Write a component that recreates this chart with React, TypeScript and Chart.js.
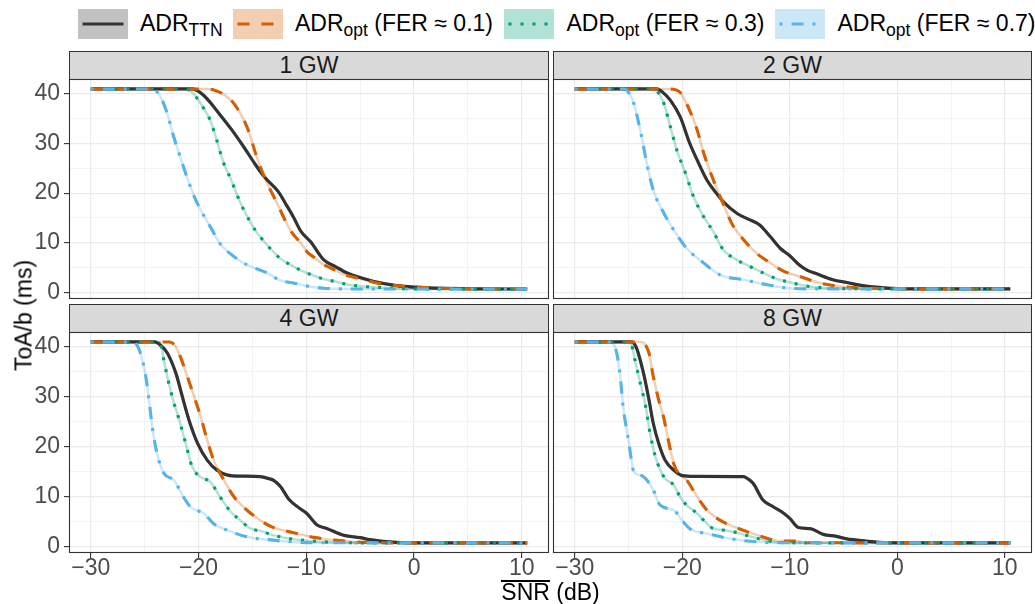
import React, { useEffect, useRef } from "react";
import { Chart, registerables } from "chart.js";

Chart.register(...registerables);

const FONT = '"Liberation Sans", Arimo, Arial, sans-serif';

type Pt = [number, number];

// ---------- data (x = mean SNR in dB, y = ToA/b in ms) ----------
const PANEL_TITLES = ["1 GW", "2 GW", "4 GW", "8 GW"];
const X_TICK_STEP = 5;
const Y_TICK_STEP = 5;
const X_LIMITS = [-32.025, 12.525];
const Y_LIMITS = [-1.33, 43.0];

const TTN_1GW: Pt[] = [[-30,41],[-20.6,41],[-19.8,40.2],[-19,38.5],[-18.3,36.6],[-17,33],[-15.8,29.3],[-14.8,26],[-13.9,23.3],[-12.6,20.3],[-11.9,17.8],[-11.2,15.2],[-10.5,12.3],[-9.6,10.2],[-8.4,6.6],[-7.3,5.2],[-6.2,3.9],[-5,3.0],[-3.7,2.2],[-1.6,1.35],[0,1.05],[3,0.8],[6,0.7],[10.5,0.68]];
const OPT01_1GW: Pt[] = [[-30,41],[-19.2,41],[-18.6,40.8],[-17.6,39.8],[-16.7,38],[-15.5,33.3],[-14.6,27.3],[-13.9,23.3],[-12.7,17.9],[-11.5,12.6],[-10.5,9.9],[-9.9,8.1],[-9.3,7.1],[-8.4,5.6],[-7.7,4.9],[-6.5,3.6],[-5.3,2.9],[-3.7,2.0],[-2.2,1.5],[0,1.1],[3,0.8],[6,0.7],[10.5,0.68]];
const OPT03_1GW: Pt[] = [[-30,41],[-21.2,41],[-20.6,40.3],[-20.1,39],[-19.5,37],[-18.9,34.6],[-18.3,30.6],[-17.7,26.2],[-17.0,22.8],[-16.4,19.5],[-15.8,16.6],[-15.2,14.2],[-14.7,12.4],[-13.9,10.2],[-12.4,6.8],[-11.5,5.6],[-10.5,4.45],[-9.4,3.45],[-8.4,2.7],[-7.2,2.15],[-6.2,1.6],[-5,1.25],[-2.8,0.95],[-0.6,0.72],[3,0.68],[10.5,0.68]];
const OPT07_1GW: Pt[] = [[-30,41],[-24.3,41],[-23.9,40.5],[-23.5,39.3],[-22.9,36],[-22.3,31.3],[-21.7,27.3],[-21.2,24],[-20.4,19.3],[-19.8,16.6],[-18.9,13.2],[-18,9.8],[-16.7,7.2],[-15.5,5.55],[-13.6,3.9],[-12.4,2.4],[-11.2,1.9],[-9.6,1.15],[-8.1,0.8],[-6.5,0.7],[10.5,0.68]];

const TTN_2GW: Pt[] = [[-30,41],[-22.4,41],[-21.8,40.3],[-21.1,38.7],[-20.2,35.4],[-19.3,30],[-18.6,26.6],[-17.7,22.6],[-16.8,19.9],[-16.2,18.3],[-14.9,15.9],[-13.7,14.6],[-12.8,13.6],[-11.8,11.2],[-10.9,8.9],[-10.0,7.4],[-9.05,5.4],[-8.4,4.5],[-7.5,3.75],[-6,2.55],[-4.7,2.0],[-3.2,1.35],[-1,0.88],[1,0.72],[10.5,0.7]];
const OPT01_2GW: Pt[] = [[-30,41],[-21.2,41],[-20.6,40.8],[-20.2,40.3],[-19.3,36.6],[-18.6,32.6],[-18,28],[-17.1,22.6],[-16.2,17.9],[-15.4,13.9],[-14.3,10.6],[-13.1,7.9],[-11.8,5.9],[-10.6,4.3],[-9.05,3.2],[-7.2,1.9],[-4.7,1.08],[-1.6,0.8],[2,0.7],[10.5,0.7]];
const OPT03_2GW: Pt[] = [[-30,41],[-22.6,41],[-22.1,39.8],[-21.7,38],[-21.1,33.3],[-20.5,28.6],[-19.7,24],[-18.96,19.3],[-18,15.2],[-17.1,12.2],[-16.2,8.6],[-15.2,6.9],[-13.4,4.9],[-11.2,2.7],[-10.1,2.1],[-9.05,1.55],[-7.8,1.1],[-4.7,0.75],[0,0.7],[10.5,0.7]];
const OPT07_2GW: Pt[] = [[-30,41],[-25.4,41],[-24.9,40],[-24.5,38],[-23.9,32.6],[-23.3,26],[-22.7,20.6],[-21.7,15.9],[-20.8,12.6],[-19.6,8.9],[-18,5.9],[-16.5,3.55],[-14.3,2.55],[-12.1,1.55],[-10.3,0.9],[-8.5,0.72],[10.5,0.7]];

const TTN_4GW: Pt[] = [[-30,41],[-24.1,41],[-23.5,40.3],[-22.9,38.8],[-22.1,34.7],[-21.5,30],[-20.9,25.4],[-20.1,20.7],[-19.2,17.3],[-18.3,15.3],[-17.3,14.3],[-16.1,14.1],[-14.3,14.0],[-13.5,13.6],[-13.0,13.2],[-12.4,12],[-11.6,9.4],[-10.6,7.6],[-10.0,6.7],[-9.0,4.3],[-8.1,3.6],[-6.5,2.2],[-5.0,1.75],[-4.1,1.35],[-1.6,0.8],[1,0.7],[10.5,0.7]];
const OPT01_4GW: Pt[] = [[-30,41],[-22.7,41],[-22.2,40.3],[-21.7,38.1],[-21.05,34.1],[-20.4,30],[-19.8,26],[-19.2,21.3],[-18.6,17.3],[-17.65,13.3],[-16.7,9.9],[-15.5,7.25],[-14.25,5.2],[-13.3,4.0],[-12.3,3.3],[-11.3,2.8],[-9.3,1.8],[-7.1,1.2],[-4.6,0.8],[0,0.7],[10.5,0.7]];
const OPT03_4GW: Pt[] = [[-30,41],[-23.7,41],[-23.4,39.5],[-23.2,37.1],[-22.45,30],[-21.8,25.4],[-21.2,20.7],[-20.6,16],[-19.8,13.9],[-18.9,12.9],[-18,9.9],[-17,6.9],[-16.1,5.2],[-15.2,3.6],[-14.25,3.1],[-13,2.2],[-12.1,1.75],[-10.8,1.35],[-9.3,1.05],[-7.4,0.8],[-4,0.7],[10.5,0.7]];
const OPT07_4GW: Pt[] = [[-30,41],[-26.1,41],[-25.7,40.3],[-25.4,38.8],[-24.9,34.1],[-24.6,29.4],[-24.3,24],[-23.85,18.6],[-23.2,14.6],[-22.3,13.3],[-21.4,9.9],[-20.75,7.9],[-19.5,6.6],[-18.6,4.55],[-17.3,3.2],[-15.5,1.9],[-13.6,1.35],[-11.2,0.9],[-9.3,0.72],[10.5,0.7]];

const TTN_8GW: Pt[] = [[-30,41],[-24.7,41],[-24.3,40],[-24.1,38.8],[-23.6,34.7],[-23.1,29.4],[-22.7,24.7],[-22.2,20.7],[-21.6,17.3],[-20.8,15.3],[-20,14.2],[-18.9,14.05],[-14.3,14.0],[-13.8,13.4],[-13.4,12.6],[-12.5,9.3],[-11.5,7.9],[-10.6,6.7],[-10.0,5.6],[-9.2,3.8],[-8.1,3.55],[-6.9,2.4],[-5.65,2.0],[-4.7,1.5],[-2.9,1.07],[-1,0.75],[1,0.7],[10.5,0.7]];
const OPT01_8GW: Pt[] = [[-30,41],[-23.8,41],[-23.4,40.3],[-23.1,38.8],[-22.7,34.1],[-22.2,29.4],[-21.75,26],[-21.3,21.3],[-20.8,16.6],[-20.35,14.6],[-19.6,13.3],[-18.6,9.9],[-17.7,7.25],[-16.2,4.9],[-14.3,3.2],[-12.5,1.9],[-11,1.1],[-9.2,1.05],[-8.4,0.72],[10.5,0.7]];
const OPT03_8GW: Pt[] = [[-30,41],[-24.9,41],[-24.6,39.5],[-24.4,37.4],[-23.9,32.7],[-23.4,28],[-23,22.7],[-22.5,18],[-21.7,13.9],[-20.8,12.3],[-20.2,9.9],[-19.6,8.25],[-18.6,6.6],[-18,5.2],[-17.1,3.55],[-15.9,3.2],[-14,2.2],[-12.8,1.5],[-11.1,0.8],[-8,0.7],[10.5,0.7]];
const OPT07_8GW: Pt[] = [[-30,41],[-26.6,41],[-26.3,40.2],[-26.1,38.8],[-25.8,34.7],[-25.5,28],[-25,21.3],[-24.5,14.95],[-23.8,14.2],[-23.3,13.3],[-22.7,11.3],[-22.05,8.25],[-20.8,7.25],[-19.9,4.9],[-19.3,3.55],[-17.7,2.55],[-15.55,1.55],[-13.9,1.07],[-11.1,0.72],[10.5,0.7]];

const PANEL_SERIES: Pt[][][] = [
  [TTN_1GW, OPT01_1GW, OPT03_1GW, OPT07_1GW],
  [TTN_2GW, OPT01_2GW, OPT03_2GW, OPT07_2GW],
  [TTN_4GW, OPT01_4GW, OPT03_4GW, OPT07_4GW],
  [TTN_8GW, OPT01_8GW, OPT03_8GW, OPT07_8GW],
];

// ---------- styles ----------
const STYLES = [
  { color: "#333333", ribbon: "rgba(51,51,51,0.3)", dash: [] as number[], width: 3.2 },
  { color: "#D55E00", ribbon: "rgba(213,94,0,0.3)", dash: [12, 12], width: 3.1 },
  { color: "#009E73", ribbon: "rgba(0,158,115,0.3)", dash: [3, 9], width: 3.1 },
  { color: "#56B4E9", ribbon: "rgba(86,180,233,0.3)", dash: [3, 9, 12, 9], width: 3.1 },
];

const FS = 23;

const fmtTick = (v: number) => (v < 0 ? "\u2212" + Math.abs(v) : String(v));
const isMajor = (v: number) => Math.abs(Math.round(v)) % 10 === 0;

const borderPlugin = {
  id: "panelBorder",
  afterDatasetsDraw(chart: any) {
    const { ctx, chartArea: a } = chart;
    ctx.save();
    ctx.strokeStyle = "#333333";
    ctx.lineWidth = 1.1;
    ctx.strokeRect(a.left + 0.5, a.top + 0.5, a.right - a.left - 1, a.bottom - a.top - 1);
    ctx.restore();
  },
};

type Rect = { L: number; T: number; R: number; B: number };

function FacetPanel({ rect, showX, showY, series, title }: { rect: Rect; showX: boolean; showY: boolean; series: Pt[][]; title: string }) {
  const ref = useRef<HTMLCanvasElement>(null);
  const P = 2;
  const YW = 46;
  const XH = 38;
  const cLeft = rect.L - (showY ? YW : P);
  const cTop = rect.T - P;
  const cW = rect.R - rect.L + (showY ? YW : P) + P;
  const cH = rect.B - rect.T + P + (showX ? XH : P);

  useEffect(() => {
    if (!ref.current) return;
    const datasets: any[] = [];
    series.forEach((pts, i) => {
      const data = pts.map(([x, y]) => ({ x, y }));
      const st = STYLES[i];
      datasets.push({
        data,
        borderColor: st.ribbon,
        borderWidth: 2.5,
        pointRadius: 0,
        cubicInterpolationMode: "monotone",
        fill: false,
        order: 20 + i,
      });
      datasets.push({
        data,
        borderColor: st.color,
        borderWidth: st.width,
        borderDash: st.dash,
        borderCapStyle: "butt",
        borderJoinStyle: "round",
        pointRadius: 0,
        cubicInterpolationMode: "monotone",
        fill: false,
        order: 10 - i,
      });
    });

    const gridCommon = {
      color: "#ebebeb",
      lineWidth: (c: any) => (c.tick && isMajor(c.tick.value) ? 1.2 : 0.6),
      tickLength: 5,
      tickWidth: 1.1,
      tickColor: (c: any) => (c.tick && isMajor(c.tick.value) ? "#333333" : "rgba(0,0,0,0)"),
    };

    const chart = new Chart(ref.current, {
      type: "line",
      data: { datasets },
      plugins: [borderPlugin],
      options: {
        animation: false,
        responsive: false,
        maintainAspectRatio: false,
        events: [],
        layout: {
          autoPadding: false,
          padding: { top: P, right: P, left: showY ? 0 : P, bottom: showX ? 0 : P },
        },
        plugins: { legend: { display: false }, tooltip: { enabled: false }, title: { display: false } },
        scales: {
          x: {
            type: "linear",
            min: X_LIMITS[0],
            max: X_LIMITS[1],
            border: { display: false },
            grid: { ...gridCommon, drawTicks: showX },
            ticks: {
              display: showX,
              stepSize: X_TICK_STEP,
              includeBounds: false,
              autoSkip: false,
              maxRotation: 0,
              minRotation: 0,
              padding: -1,
              color: "#4d4d4d",
              font: { family: FONT, size: FS, lineHeight: 1 },
              callback: (v: any) => (isMajor(Number(v)) ? fmtTick(Number(v)) : ""),
            },
            afterFit: (s: any) => {
              s.height = showX ? XH : 0;
              s.paddingLeft = 0;
              s.paddingRight = 0;
            },
          },
          y: {
            type: "linear",
            min: Y_LIMITS[0],
            max: Y_LIMITS[1],
            border: { display: false },
            grid: { ...gridCommon, drawTicks: showY },
            ticks: {
              display: showY,
              stepSize: Y_TICK_STEP,
              includeBounds: false,
              autoSkip: false,
              padding: 4,
              color: "#4d4d4d",
              font: { family: FONT, size: FS, lineHeight: 1 },
              callback: (v: any) => (isMajor(Number(v)) ? fmtTick(Number(v)) : ""),
            },
            afterFit: (s: any) => {
              s.width = showY ? YW : 0;
              s.paddingTop = 0;
              s.paddingBottom = 0;
            },
          },
        },
      } as any,
    });
    return () => chart.destroy();
  }, []);

  return (
    <>
      <div
        style={{
          position: "absolute",
          left: rect.L,
          top: rect.T - 28,
          width: rect.R - rect.L,
          height: 29,
          boxSizing: "border-box",
          border: "1px solid #333333",
          background: "#d9d9d9",
          color: "#1a1a1a",
          fontSize: FS,
          lineHeight: "27px",
          textAlign: "center",
        }}
      >
        {title}
      </div>
      <canvas
        ref={ref}
        width={cW}
        height={cH}
        style={{ position: "absolute", left: cLeft, top: cTop, width: cW, height: cH }}
      />
    </>
  );
}

const LEGEND_BOXES = [78, 233, 503.5, 775];
const LEGEND_TEXT_X = [140, 295, 566.5, 837.5];

function LegendKey({ i, left }: { i: number; left: number }) {
  const st = STYLES[i];
  return (
    <svg width={50} height={30} style={{ position: "absolute", left, top: 9 }}>
      <rect x={0} y={0} width={50} height={30} fill={st.ribbon} />
      <line
        x1={4.5}
        y1={15}
        x2={45.5}
        y2={15}
        stroke={st.color}
        strokeWidth={2.8}
        strokeDasharray={st.dash.length ? st.dash.join(" ") : undefined}
        strokeLinecap="butt"
      />
    </svg>
  );
}

const sub = { fontSize: 17.5, position: "relative" as const, top: 5 };

export default function App() {
  const rects: Rect[] = [
    { L: 69, T: 79, R: 549, B: 299 },
    { L: 553, T: 79, R: 1032, B: 299 },
    { L: 69, T: 332, R: 549, B: 553 },
    { L: 553, T: 332, R: 1032, B: 553 },
  ];
  const labels = [
    <span>ADR<span style={sub}>TTN</span></span>,
    <span>ADR<span style={sub}>opt</span> (FER ≈ 0.1)</span>,
    <span>ADR<span style={sub}>opt</span> (FER ≈ 0.3)</span>,
    <span>ADR<span style={sub}>opt</span> (FER ≈ 0.7)</span>,
  ];
  return (
    <div
      style={{
        position: "fixed",
        left: 0,
        top: 0,
        width: 1035,
        height: 604,
        background: "#ffffff",
        fontFamily: FONT,
        overflow: "hidden",
      }}
    >
      {LEGEND_BOXES.map((x, i) => (
        <LegendKey key={"k" + i} i={i} left={x} />
      ))}
      {LEGEND_TEXT_X.map((x, i) => (
        <div
          key={"t" + i}
          style={{ position: "absolute", left: x, top: 11.5, fontSize: FS, lineHeight: "23px", color: "#000", whiteSpace: "nowrap" }}
        >
          {labels[i]}
        </div>
      ))}
      {rects.map((r, i) => (
        <FacetPanel
          key={i}
          rect={r}
          showX={i >= 2}
          showY={i % 2 === 0}
          series={PANEL_SERIES[i]}
          title={PANEL_TITLES[i]}
        />
      ))}
      <div
        style={{
          position: "absolute",
          left: 69,
          width: 963,
          top: 581,
          fontSize: FS,
          lineHeight: "23px",
          textAlign: "center",
          color: "#000",
          whiteSpace: "nowrap",
        }}
      >
        <span style={{ position: "relative" }}>
          SNR
          <span
            style={{
              position: "absolute",
              left: 0,
              right: 0,
              top: 1,
              height: 1.5,
              background: "#000",
            }}
          />
        </span>{" "}
        (dB)
      </div>
      <div
        style={{
          position: "absolute",
          left: 24 - 100,
          top: 315 - 11.5,
          width: 200,
          height: 23,
          fontSize: FS,
          lineHeight: "23px",
          textAlign: "center",
          color: "#000",
          transform: "rotate(-90deg)",
          whiteSpace: "nowrap",
        }}
      >
        ToA/b (ms)
      </div>
    </div>
  );
}
